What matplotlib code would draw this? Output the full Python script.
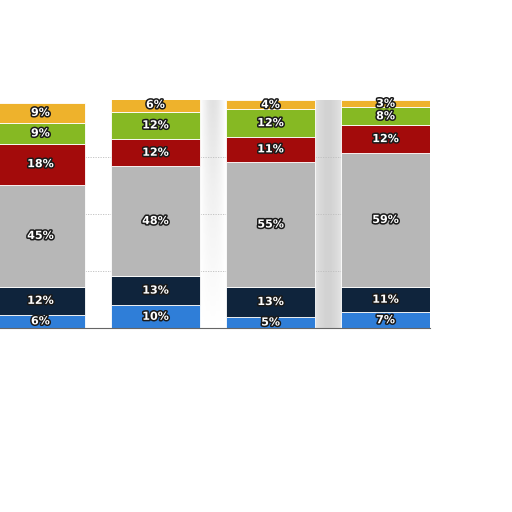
import matplotlib.pyplot as plt
import matplotlib.patheffects as pe
import numpy as np

# stacked shares per column, bottom to top
blue = [6, 10, 5, 7]
navy = [12, 13, 13, 11]
grey = [45, 48, 55, 59]
red = [18, 12, 11, 12]
green = [9, 12, 12, 8]
yellow = [9, 6, 4, 3]

series = [blue, navy, grey, red, green, yellow]
colors = ['#2f7ed8', '#0f243c', '#b7b7b7', '#a30b0b', '#86b923', '#eeb22c']

fig = plt.figure(figsize=(5.12, 5.12), dpi=100)
ax = fig.add_axes([0.0, 0.359, 0.84, 0.445])

x = np.arange(len(blue))
width = 0.775

# shaded background in the gaps between columns
h_prof = 1 - np.abs(np.linspace(-1, 1, 30)) ** 2
light = np.outer(np.linspace(0.2, 0.0, 50), h_prof)
ax.imshow(light, extent=[1.39, 1.61, 0, 100], origin='upper', cmap='Greys',
          vmin=0, vmax=1, aspect='auto', zorder=0)
dark = np.outer(np.ones(50), 0.2 + 0.08 * h_prof)
ax.imshow(dark, extent=[2.39, 2.61, 0, 100], origin='upper', cmap='Greys',
          vmin=0, vmax=1, aspect='auto', zorder=0)

for yv in [25, 50, 75]:
    ax.axhline(yv, color='#bdbdbd', lw=0.6, ls=(0, (1.5, 1.5)), zorder=0.5)

bottom = np.zeros(len(blue))
for vals, c in zip(series, colors):
    vals = np.array(vals, dtype=float)
    ax.bar(x, vals, width, bottom=bottom, color=c, edgecolor='white',
           linewidth=0.6, zorder=2)
    for xi, b, v in zip(x, bottom, vals):
        ax.text(xi, b + v / 2, f'{int(v)}%', ha='center', va='center',
                fontsize=8, fontweight='bold', color='white', zorder=3,
                family=['Liberation Sans Narrow', 'DejaVu Sans'],
                path_effects=[pe.withStroke(linewidth=2.2, foreground='#1a1a1a')])
    bottom += vals

ax.set_xlim(-0.352, 3.387)
ax.set_ylim(0, 100)
ax.set_xticks([])
ax.set_yticks([])
for s in ['top', 'left', 'right']:
    ax.spines[s].set_visible(False)
ax.spines['bottom'].set_color('#666666')
ax.spines['bottom'].set_linewidth(0.8)

fig.savefig('out.png', dpi=100, facecolor='white')
